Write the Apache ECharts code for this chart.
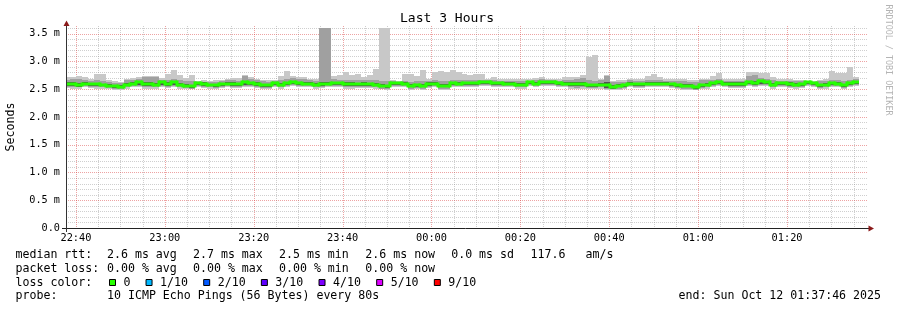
<!DOCTYPE html>
<html><head><meta charset="utf-8">
<script src="https://cdn.jsdelivr.net/npm/echarts@6/dist/echarts.min.js"></script>
<style>html,body{margin:0;padding:0;background:#fff}#c{width:897px;height:310px}</style>
</head><body><div id="c"></div>
<script>
// ---- time axis (minutes after 22:00) ----
const startMin = 37 + 46 / 60;          // 22:37:46
const endMin = startMin + 180;          // 01:37:46
const firstColMin = startMin - 20 / 60; // first rrd step start
const stepMin = 80 / 60;                // 80 s step

const xTickValues = [40, 60, 80, 100, 120, 140, 160, 180, 200];
const xTickLabels = ['22:40', '23:00', '23:20', '23:40', '00:00', '00:20', '00:40', '01:00', '01:20'];
const xMinorTicks = [45, 50, 55, 65, 70, 75, 85, 90, 95, 105, 110, 115, 125, 130, 135, 145, 150, 155, 165, 170, 175, 185, 190, 195, 205, 210, 215];
const yTickValues = [0, 0.5, 1, 1.5, 2, 2.5, 3, 3.5];
const yTickLabels = ['0.0', '0.5 m', '1.0 m', '1.5 m', '2.0 m', '2.5 m', '3.0 m', '3.5 m'];
const yMinorTicks = [0.1, 0.2, 0.3, 0.4, 0.6, 0.7, 0.8, 0.9, 1.1, 1.2, 1.3, 1.4, 1.6, 1.7, 1.8, 1.9, 2.1, 2.2, 2.3, 2.4, 2.6, 2.7, 2.8, 2.9, 3.1, 3.2, 3.3, 3.4, 3.6];
const yMax = 3.635;

// ---- ping data (ms) ----
const median = [
 2.60,2.59,2.58,2.60,2.59,2.59,2.58,2.56,2.55,2.54, 2.58,2.60,2.62,2.59,2.59,2.58,2.62,2.60,2.62,2.58, 2.56,2.55,2.61,2.60,2.58,2.57,2.59,
 2.60,2.59,2.59,2.62,2.61,2.59,2.57,2.57,2.61,2.58, 2.61,2.62,2.61,2.60,2.60,2.58,2.59,2.60,2.61,2.61, 2.59,2.59,2.59,2.59,2.59,2.58,2.56,2.55,
 2.61,2.61,2.60,2.56,2.57,2.56,2.59,2.60,2.56,2.56, 2.61,2.60,2.61,2.61,2.61,2.62,2.62,2.61,2.61,2.60, 2.60,2.58,2.58,2.62,2.60,2.62,2.63,
 2.63,2.61,2.60,2.59,2.60,2.59,2.57,2.57,2.58,2.57, 2.54,2.56,2.57,2.60,2.59,2.59,2.60,2.60,2.60,2.60, 2.59,2.57,2.56,2.56,2.53,2.57,2.58,
 2.61,2.62,2.60,2.59,2.59,2.59,2.62,2.61,2.65,2.62, 2.58,2.61,2.61,2.59,2.58,2.59,2.62,2.61,2.57,2.58, 2.61,2.60,2.57,2.61,2.62
];
const pingMax = [
 2.72,2.72,2.73,2.72,2.69,2.77,2.77,2.66,2.65,2.63, 2.69,2.70,2.71,2.73,2.73,2.74,2.70,2.78,2.84,2.76, 2.70,2.75,2.65,2.66,2.65,2.66,2.67,
 2.69,2.70,2.70,2.75,2.72,2.68,2.67,2.66,2.66,2.74, 2.82,2.73,2.72,2.72,2.69,2.68,3.60,3.60,2.74,2.75, 2.81,2.75,2.77,2.72,2.75,2.87,3.60,3.60,
 2.66,2.64,2.78,2.78,2.73,2.84,2.69,2.81,2.83,2.80, 2.84,2.80,2.78,2.75,2.78,2.78,2.69,2.71,2.69,2.69, 2.69,2.69,2.69,2.69,2.70,2.72,2.69,
 2.69,2.68,2.72,2.71,2.72,2.75,3.08,3.11,2.69,2.75, 2.64,2.66,2.66,2.69,2.68,2.68,2.73,2.78,2.72,2.69, 2.68,2.68,2.68,2.67,2.66,2.69,2.69,
 2.74,2.79,2.69,2.69,2.69,2.69,2.81,2.81,2.79,2.79, 2.71,2.69,2.69,2.69,2.67,2.66,2.65,2.65,2.66,2.69, 2.83,2.79,2.79,2.90,2.72
];
const ping9 = [
 2.66,2.68,2.69,2.66,2.65,2.66,2.64,2.63,2.61,2.61, 2.66,2.66,2.68,2.71,2.71,2.71,2.66,2.66,2.68,2.66, 2.64,2.65,2.63,2.63,2.63,2.63,2.64,
 2.66,2.66,2.65,2.74,2.68,2.66,2.64,2.63,2.64,2.66, 2.68,2.70,2.69,2.68,2.66,2.64,3.60,3.60,2.68,2.67, 2.66,2.67,2.66,2.67,2.66,2.66,2.65,2.64,
 2.64,2.62,2.64,2.63,2.64,2.65,2.65,2.66,2.64,2.65, 2.67,2.66,2.66,2.66,2.66,2.67,2.66,2.66,2.65,2.65, 2.65,2.64,2.64,2.65,2.67,2.68,2.67,
 2.66,2.65,2.67,2.67,2.69,2.70,2.66,2.65,2.66,2.74, 2.62,2.63,2.63,2.66,2.65,2.65,2.66,2.66,2.66,2.65, 2.65,2.64,2.64,2.63,2.62,2.66,2.66,
 2.67,2.68,2.65,2.65,2.65,2.65,2.73,2.75,2.70,2.69, 2.66,2.65,2.65,2.65,2.64,2.64,2.63,2.63,2.64,2.65, 2.66,2.66,2.65,2.66,2.68
];
const ping7 = [
 2.62,2.62,2.61,2.62,2.61,2.61,2.60,2.59,2.57,2.57, 2.61,2.62,2.64,2.63,2.62,2.61,2.64,2.62,2.64,2.61, 2.59,2.58,2.62,2.62,2.60,2.60,2.61,
 2.62,2.62,2.61,2.65,2.63,2.62,2.60,2.60,2.63,2.61, 2.63,2.64,2.63,2.63,2.62,2.61,2.62,2.63,2.63,2.63, 2.62,2.62,2.61,2.62,2.61,2.61,2.59,2.58,
 2.63,2.62,2.62,2.59,2.60,2.59,2.62,2.62,2.59,2.59, 2.63,2.63,2.63,2.63,2.63,2.64,2.64,2.63,2.63,2.62, 2.62,2.61,2.61,2.64,2.63,2.65,2.65,
 2.65,2.63,2.63,2.62,2.63,2.62,2.60,2.60,2.61,2.62, 2.57,2.59,2.60,2.62,2.61,2.61,2.62,2.62,2.62,2.62, 2.61,2.60,2.59,2.59,2.56,2.60,2.61,
 2.63,2.64,2.62,2.62,2.62,2.62,2.65,2.64,2.67,2.65, 2.61,2.63,2.63,2.62,2.61,2.61,2.63,2.62,2.60,2.61, 2.63,2.63,2.60,2.63,2.65
];
const ping4 = [
 2.56,2.55,2.54,2.57,2.56,2.55,2.55,2.53,2.52,2.52, 2.55,2.57,2.58,2.55,2.55,2.55,2.58,2.56,2.58,2.55, 2.53,2.52,2.57,2.56,2.55,2.54,2.56,
 2.57,2.56,2.56,2.58,2.58,2.56,2.54,2.54,2.58,2.55, 2.58,2.59,2.58,2.57,2.57,2.55,2.56,2.57,2.58,2.58, 2.55,2.55,2.56,2.56,2.56,2.55,2.53,2.52,
 2.58,2.58,2.57,2.53,2.54,2.53,2.56,2.57,2.53,2.53, 2.58,2.57,2.58,2.58,2.58,2.59,2.59,2.58,2.58,2.57, 2.57,2.55,2.55,2.59,2.57,2.59,2.60,
 2.60,2.58,2.57,2.55,2.55,2.55,2.54,2.54,2.55,2.52, 2.51,2.53,2.54,2.57,2.56,2.56,2.57,2.57,2.57,2.57, 2.56,2.54,2.53,2.53,2.50,2.54,2.55,
 2.58,2.59,2.57,2.56,2.56,2.56,2.59,2.58,2.60,2.59, 2.55,2.58,2.58,2.56,2.55,2.56,2.59,2.58,2.54,2.55, 2.58,2.57,2.54,2.58,2.59
];
const ping2 = [
 2.54,2.53,2.53,2.55,2.54,2.53,2.53,2.52,2.51,2.51, 2.53,2.55,2.56,2.53,2.53,2.53,2.56,2.54,2.56,2.53, 2.52,2.51,2.55,2.54,2.53,2.52,2.54,
 2.55,2.54,2.54,2.56,2.56,2.54,2.52,2.52,2.56,2.53, 2.56,2.57,2.56,2.55,2.55,2.53,2.54,2.55,2.56,2.56, 2.53,2.53,2.54,2.54,2.54,2.53,2.51,2.51,
 2.56,2.56,2.55,2.51,2.52,2.51,2.54,2.55,2.51,2.51, 2.56,2.55,2.56,2.56,2.56,2.57,2.57,2.56,2.56,2.55, 2.55,2.53,2.53,2.57,2.55,2.57,2.58,
 2.58,2.56,2.55,2.53,2.52,2.53,2.52,2.52,2.53,2.50, 2.50,2.51,2.52,2.55,2.54,2.54,2.55,2.55,2.55,2.55, 2.54,2.52,2.51,2.51,2.49,2.52,2.53,
 2.56,2.57,2.55,2.54,2.54,2.54,2.57,2.56,2.58,2.57, 2.53,2.56,2.56,2.54,2.53,2.54,2.57,2.56,2.52,2.53, 2.56,2.55,2.52,2.56,2.57
];
const pingMin = [
 2.52,2.51,2.51,2.53,2.52,2.51,2.51,2.50,2.49,2.49, 2.51,2.53,2.53,2.51,2.51,2.51,2.54,2.52,2.53,2.51, 2.50,2.50,2.53,2.52,2.51,2.50,2.52,
 2.53,2.52,2.52,2.54,2.54,2.52,2.51,2.51,2.54,2.51, 2.54,2.55,2.54,2.53,2.53,2.51,2.52,2.53,2.54,2.54, 2.51,2.51,2.52,2.52,2.52,2.51,2.50,2.49,
 2.54,2.54,2.53,2.49,2.50,2.49,2.52,2.53,2.49,2.49, 2.54,2.53,2.54,2.54,2.54,2.55,2.55,2.54,2.54,2.53, 2.53,2.51,2.51,2.55,2.53,2.55,2.56,
 2.56,2.54,2.53,2.51,2.50,2.51,2.50,2.50,2.51,2.49, 2.48,2.49,2.50,2.53,2.52,2.52,2.53,2.53,2.53,2.53, 2.52,2.50,2.49,2.49,2.48,2.50,2.51,
 2.54,2.55,2.53,2.52,2.52,2.52,2.55,2.54,2.56,2.55, 2.51,2.54,2.54,2.52,2.51,2.52,2.55,2.54,2.50,2.51, 2.54,2.53,2.50,2.54,2.55
];

const lossColors = ['#26ff00', '#00b8ff', '#0059ff', '#5e00ff', '#7e00ff', '#dd00ff', '#ff0000'];
const lossLabels = ['0', '1/10', '2/10', '3/10', '4/10', '5/10', '9/10'];

const statsRtt = ['2.6 ms avg', '2.7 ms max', '2.5 ms min', '2.6 ms now', '0.0 ms sd', '117.6', 'am/s'];
const statsLoss = ['0.00 % avg', '0.00 % max', '0.00 % min', '0.00 % now'];
const probeText = '10 ICMP Echo Pings (56 Bytes) every 80s';
const endText = 'end: Sun Oct 12 01:37:46 2025';

// ---- build ----
const MONO = '"DejaVu Sans Mono", monospace';
const smokeColors = ['#c8c8c8', '#a0a0a0', '#525252'];
const data = median.map((m, i) => [firstColMin + i * stepMin, pingMin[i], ping2[i], ping4[i], ping7[i], ping9[i], pingMax[i], m]);

function renderItem(params, api) {
  const i = params.dataIndex;
  const cs = params.coordSys;
  const clipBox = { x: cs.x, y: cs.y, width: cs.width, height: cs.height };
  const t0 = api.value(0), t1 = t0 + stepMin;
  const x0 = Math.round(api.coord([t0, 0])[0]);
  const x1 = Math.round(api.coord([t1, 0])[0]);
  const children = [];
  function band(a, b, color) {
    const ya = Math.round(api.coord([t0, a])[1]);
    const yb = Math.round(api.coord([t0, b])[1]);
    const r = echarts.graphic.clipRectByRect({ x: x0, y: Math.min(ya, yb), width: x1 - x0, height: Math.abs(ya - yb) }, clipBox);
    if (r) children.push({ type: 'rect', shape: r, style: { fill: color } });
  }
  band(api.value(1), api.value(6), smokeColors[0]);
  band(api.value(2), api.value(5), smokeColors[1]);
  band(api.value(3), api.value(4), smokeColors[2]);
  const ym = Math.round(api.coord([t0, api.value(7)])[1]);
  let r = echarts.graphic.clipRectByRect({ x: x0, y: ym - 1.5, width: x1 - x0, height: 3 }, clipBox);
  if (r) children.push({ type: 'rect', shape: r, style: { fill: lossColors[0] } });
  if (i > 0) {
    const yp = Math.round(api.coord([t0, median[i - 1]])[1]);
    if (yp !== ym) {
      r = echarts.graphic.clipRectByRect({ x: x0 - 1.5, y: Math.min(yp, ym) - 1.5, width: 3, height: Math.abs(yp - ym) + 3 }, clipBox);
      if (r) children.push({ type: 'rect', shape: r, style: { fill: lossColors[0] } });
    }
  }
  return { type: 'group', children };
}

// grid lines drawn through the axes' scales
function gridSeries(values, vertical, color) {
  return {
    type: 'custom', xAxisIndex: 0, yAxisIndex: 0, z: 1, silent: true,
    data: values.map(v => vertical ? [v, 0] : [startMin, v]),
    encode: { x: 0, y: 1 },
    renderItem: (params, api) => {
      const cs = params.coordSys;
      if (vertical) {
        const x = Math.round(api.coord([api.value(0), 0])[0]) + 0.5;
        return { type: 'line', shape: { x1: x, y1: cs.y, x2: x, y2: cs.y + cs.height }, style: { stroke: color, lineWidth: 1, lineDash: [1, 1] } };
      }
      const y = Math.round(api.coord([startMin, api.value(1)])[1]) + 0.5;
      return { type: 'line', shape: { x1: cs.x, y1: y, x2: cs.x + cs.width + 2, y2: y }, style: { stroke: color, lineWidth: 1, lineDash: [1, 1] } };
    }
  };
}

const gridCol = 'rgba(140,140,140,0.42)';
const mgridCol = 'rgba(215,50,50,0.45)';
const g = [];
function txt(text, x, y, size, opts) {
  g.push(Object.assign({ type: 'text', x, y, silent: true,
    style: Object.assign({ text, fontFamily: MONO, fontSize: size, fill: '#000', align: 'left', verticalAlign: 'middle' }, opts && opts.style || {}) },
    opts && opts.el || {}));
}
txt('Last 3 Hours', 447, 19, 13, { style: { align: 'center' } });
txt('Seconds', 11, 127, 11.6, { style: { align: 'center' }, el: { rotation: Math.PI / 2 } });
txt('RRDTOOL / TOBI OETIKER', 888, 60, 8.4, { style: { align: 'center', fill: '#b4b4b4' }, el: { rotation: -Math.PI / 2 } });

const colX = [107, 193, 279, 365.3, 451.2, 530.5, 585.5];
const rowY = [255, 268.5, 282.5, 296];
txt('median rtt:', 15.5, rowY[0], 11.6);
statsRtt.forEach((s, i) => txt(s, colX[i], rowY[0], 11.6));
txt('packet loss:', 15.5, rowY[1], 11.6);
statsLoss.forEach((s, i) => txt(s, colX[i], rowY[1], 11.6));
txt('loss color:', 15.5, rowY[2], 11.6);
let bx = 109;
lossLabels.forEach((lab, i) => {
  g.push({ type: 'rect', shape: { x: bx + 0.5, y: 279.5, width: 6, height: 6 }, style: { fill: lossColors[i], stroke: '#000', lineWidth: 1 }, silent: true });
  txt(lab, bx + 14.5, rowY[2], 11.6);
  bx = bx + 14.5 + lab.length * 7.04 + 15;
});
txt('probe:', 15.5, rowY[3], 11.6);
txt(probeText, colX[0], rowY[3], 11.6);
txt(endText, 881, rowY[3], 11.6, { style: { align: 'right' } });

// axis lines & arrows
g.push({ type: 'line', z: 10, shape: { x1: 62, y1: 228.5, x2: 869, y2: 228.5 }, style: { stroke: '#222', lineWidth: 1 }, silent: true });
g.push({ type: 'line', z: 10, shape: { x1: 66.5, y1: 232, x2: 66.5, y2: 24 }, style: { stroke: '#333', lineWidth: 1 }, silent: true });
g.push({ type: 'polygon', z: 10, shape: { points: [[66.5, 20.5], [63.5, 26], [69.5, 26]] }, style: { fill: '#8b1a1a' }, silent: true });
g.push({ type: 'polygon', z: 10, shape: { points: [[874, 228.5], [868.5, 225.5], [868.5, 231.5]] }, style: { fill: '#8b1a1a' }, silent: true });

const labelFmtX = v => { const k = xTickValues.findIndex(t => Math.abs(t - v) < 1e-6); return k >= 0 ? xTickLabels[k] : ''; };
const labelFmtY = v => { const k = yTickValues.findIndex(t => Math.abs(t - v) < 1e-6); return k >= 0 ? yTickLabels[k] : ''; };

const chart = echarts.init(document.getElementById('c'), null, { renderer: 'canvas' });
chart.setOption({
  animation: false,
  backgroundColor: '#ffffff',
  grid: { left: 66, right: 31, top: 26, bottom: 82, containLabel: false },
  xAxis: [
    { type: 'value', min: startMin, max: endMin, position: 'bottom',
      axisLine: { show: false, onZero: false },
      axisTick: { show: false, customValues: xTickValues },
      axisLabel: { show: true, customValues: xTickValues, formatter: labelFmtX, margin: 5, fontFamily: MONO, fontSize: 10.3, color: '#000' },
      splitLine: { show: false } }
  ],
  yAxis: [
    { type: 'value', min: 0, max: yMax, position: 'left',
      axisLine: { show: false, onZero: false },
      axisTick: { show: false, customValues: yTickValues },
      axisLabel: { show: true, customValues: yTickValues, formatter: labelFmtY, margin: 6, fontFamily: MONO, fontSize: 10.2, color: '#000' },
      splitLine: { show: false } }
  ],
  series: [
    gridSeries(yMinorTicks, false, gridCol),
    gridSeries(xMinorTicks, true, gridCol),
    gridSeries(yTickValues.slice(1), false, mgridCol),
    gridSeries(xTickValues, true, mgridCol),
    { type: 'custom', xAxisIndex: 0, yAxisIndex: 0, z: 2, renderItem, data, encode: { x: 0, y: [1, 2, 3, 4, 5, 6, 7] } }
  ],
  graphic: { elements: g }
});
</script></body></html>
